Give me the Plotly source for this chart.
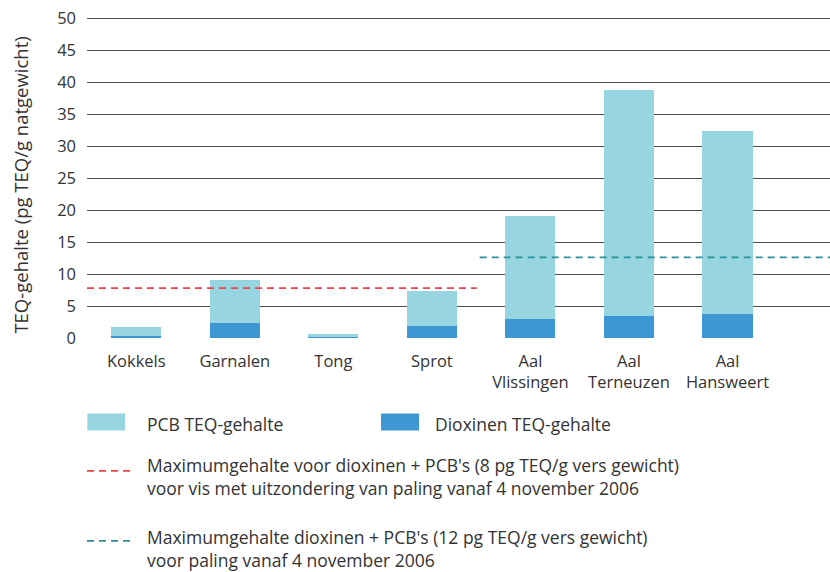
import plotly.graph_objects as go

# ---- data ----
categories = ["Kokkels", "Garnalen", "Tong", "Sprot", "Aal<br>Vlissingen", "Aal<br>Terneuzen", "Aal<br>Hansweert"]
dioxinen = [0.3, 2.4, 0.1, 1.8, 2.9, 3.5, 3.8]
pcb = [1.4, 6.7, 0.6, 5.6, 16.1, 35.3, 28.6]
y_ticks = [0, 5, 10, 15, 20, 25, 30, 35, 40, 45, 50]
limit_vis = 7.8      # Maximumgehalte vis (excl. paling)
limit_paling = 12.6  # Maximumgehalte paling

legend_pcb = "PCB TEQ-gehalte"
legend_diox = "Dioxinen TEQ-gehalte"
legend_red = "Maximumgehalte voor dioxinen + PCB's (8 pg TEQ/g vers gewicht)<br>voor vis met uitzondering van paling vanaf 4 november 2006"
legend_teal = "Maximumgehalte dioxinen + PCB's (12 pg TEQ/g vers gewicht)<br>voor paling vanaf 4 november 2006"
y_title = "TEQ-gehalte (pg TEQ/g natgewicht)"

# ---- style ----
FONT = "Open Sans"
TXT = "#333333"
C_PCB = "#97d6e0"
C_DIOX = "#3d97d3"
C_RED = "#f5404a"
C_TEAL = "#2b8f9a"

W, H = 830, 572
ML, MR = 87, 0
Y0_PX = 338.5
PX_PER_UNIT = 6.4
YMAX = 50.5
MT = Y0_PX - YMAX * PX_PER_UNIT
MB = H - Y0_PX
XR = [-0.5, 7.04]
plot_w = W - ML - MR
plot_h = H - MT - MB

def px_x(px):
    return (px - ML) / plot_w

def px_y(py):
    return (Y0_PX - py) / plot_h

x = list(range(len(categories)))

fig = go.Figure()
fig.add_trace(go.Bar(x=x, y=dioxinen, marker_color=C_DIOX, width=0.508,
                     marker_line_width=0, showlegend=False))
fig.add_trace(go.Bar(x=x, y=pcb, marker_color=C_PCB, width=0.508,
                     marker_line_width=0, showlegend=False))

# limit lines
fig.add_trace(go.Scatter(x=[XR[0], 3.455], y=[limit_vis, limit_vis], mode="lines",
                         line=dict(color=C_RED, width=1.6, dash="7px,5px"),
                         showlegend=False, hoverinfo="skip"))
fig.add_trace(go.Scatter(x=[3.485, XR[1]], y=[limit_paling, limit_paling], mode="lines",
                         line=dict(color=C_TEAL, width=1.6, dash="7px,5px"),
                         showlegend=False, hoverinfo="skip"))

fig.update_layout(
    width=W, height=H,
    margin=dict(l=ML, r=MR, t=MT, b=MB, pad=0),
    barmode="stack",
    plot_bgcolor="white", paper_bgcolor="white",
    font=dict(family=FONT, size=17, color=TXT),
    xaxis=dict(range=XR, tickvals=x, ticktext=categories, showgrid=False,
               zeroline=False, showline=False, ticks="outside", ticklen=8,
               tickcolor="rgba(0,0,0,0)", tickfont=dict(size=16.5, color=TXT)),
    yaxis=dict(range=[0, YMAX], tickvals=y_ticks, showgrid=True,
               gridcolor="#4a4a4a", gridwidth=1.3, zeroline=False,
               showline=False, ticks="", ticklabelstandoff=10,
               tickfont=dict(size=16.5, color=TXT)),
)

# y title
fig.add_annotation(text=y_title, xref="paper", yref="paper",
                   x=px_x(21), y=px_y(186), textangle=-90, showarrow=False,
                   xanchor="center", yanchor="middle",
                   font=dict(family=FONT, size=18.5, color=TXT))

# custom legend: swatches
fig.add_shape(type="rect", xref="paper", yref="paper",
              x0=px_x(87.3), x1=px_x(125), y0=px_y(414), y1=px_y(431),
              fillcolor=C_PCB, line_width=0)
fig.add_shape(type="rect", xref="paper", yref="paper",
              x0=px_x(381), x1=px_x(419), y0=px_y(414), y1=px_y(431),
              fillcolor=C_DIOX, line_width=0)
fig.add_shape(type="line", xref="paper", yref="paper",
              x0=px_x(87), x1=px_x(134), y0=px_y(471.5), y1=px_y(471.5),
              line=dict(color=C_RED, width=1.6, dash="7px,5px"))
fig.add_shape(type="line", xref="paper", yref="paper",
              x0=px_x(87), x1=px_x(134), y0=px_y(541.5), y1=px_y(541.5),
              line=dict(color=C_TEAL, width=1.6, dash="7px,5px"))

def leg_text(txt, xp, yp):
    fig.add_annotation(text=txt, xref="paper", yref="paper", x=px_x(xp), y=px_y(yp),
                       showarrow=False, xanchor="left", yanchor="middle", align="left",
                       font=dict(family=FONT, size=17.5, color=TXT))

leg_text(legend_pcb, 145, 425)
leg_text(legend_diox, 433, 425)
leg_text(legend_red, 145, 477)
leg_text(legend_teal, 145, 549)

fig.write_html("out.html", config={"displayModeBar": False},
               post_script="document.body.style.margin='0';")
